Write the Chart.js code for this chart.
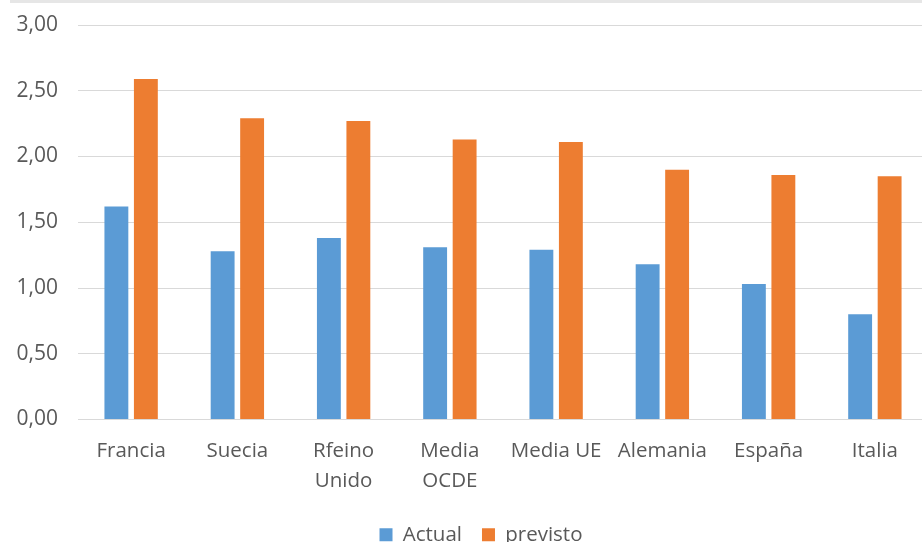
<!DOCTYPE html>
<html>
<head>
<meta charset="utf-8">
<script src="https://cdn.jsdelivr.net/npm/chart.js@4"></script>
<style>
  html, body { margin: 0; padding: 0; background: #fff; }
  #wrap { position: relative; width: 922px; height: 542px; overflow: hidden; }
  #band { position: absolute; left: 10px; top: 0; width: 912px; height: 3px; background: #e6e6e6; }
  #box { position: absolute; left: 0; top: 0; width: 928px; height: 555px; }
</style>
</head>
<body>
<div id="wrap">
  <div id="box"><canvas id="c" width="928" height="555"></canvas></div>
  <div id="band"></div>
</div>
<script>
const categories = ["Francia", "Suecia", ["Rfeino", "Unido"], ["Media", "OCDE"], "Media UE", "Alemania", "España", "Italia"];
const actual = [1.62, 1.28, 1.38, 1.31, 1.29, 1.18, 1.03, 0.80];
const previsto = [2.59, 2.29, 2.27, 2.13, 2.11, 1.90, 1.86, 1.85];
const seriesNames = ["Actual", "previsto"];

const shiftLegend = {
  id: 'shiftLegend',
  afterLayout(chart) {
    const lg = chart.legend;
    if (lg) { lg.left += 17; lg.right += 17; }
  }
};

const ctx = document.getElementById('c');
new Chart(ctx, {
  type: 'bar',
  data: {
    labels: categories,
    datasets: [
      { label: seriesNames[0], data: actual, backgroundColor: '#5B9BD5', categoryPercentage: 0.555, barPercentage: 0.81 },
      { label: seriesNames[1], data: previsto, backgroundColor: '#ED7D31', categoryPercentage: 0.555, barPercentage: 0.81 }
    ]
  },
  plugins: [shiftLegend],
  options: {
    responsive: false,
    animation: false,
    layout: { padding: { top: 25, left: 0, right: 0, bottom: 0 } },
    plugins: {
      legend: {
        position: 'bottom',
        labels: {
          font: { family: 'Open Sans', size: 20.5 },
          color: '#595959',
          boxWidth: 13, boxHeight: 13,
          padding: 20
        }
      },
      tooltip: { enabled: false }
    },
    scales: {
      x: {
        grid: { display: false },
        border: { display: false },
        ticks: {
          font: { family: 'Open Sans', size: 20.5, lineHeight: 1.45 },
          color: '#595959',
          padding: 9,
          maxRotation: 0, autoSkip: false
        },
        afterFit: (s) => { s.height = 85; }
      },
      y: {
        min: 0, max: 3,
        grid: { color: '#d9d9d9', lineWidth: 1, drawTicks: false },
        border: { display: false },
        ticks: {
          stepSize: 0.5,
          font: { family: 'Open Sans', size: 21 },
          color: '#595959',
          padding: 20,
          callback: (v) => v.toFixed(2).replace('.', ',')
        },
        afterFit: (s) => { s.width = 78; s.paddingTop = 0; s.paddingBottom = 0; }
      }
    }
  }
});
</script>
</body>
</html>
